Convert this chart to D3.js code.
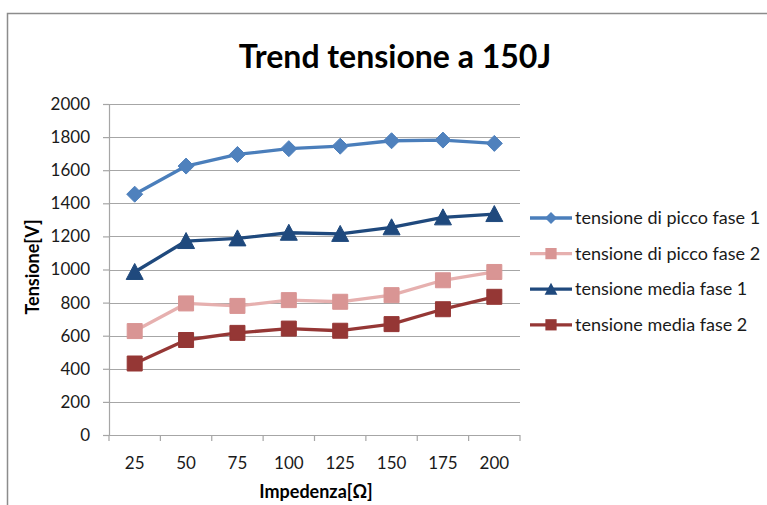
<!DOCTYPE html>
<html>
<head>
<meta charset="utf-8">
<script src="https://cdn.jsdelivr.net/npm/d3@7"></script>
<style>
  html, body { margin: 0; padding: 0; background: #fff; }
  svg { display: block; font-family: Lato, "Open Sans", sans-serif; }
</style>
</head>
<body>
<svg id="chart" width="767" height="505"></svg>
<script>
// Impedance categories (Ω)
const categories = ["25", "50", "75", "100", "125", "150", "175", "200"];

// Voltage series (V)
const piccoFase1 = [1455, 1625, 1695, 1730, 1745, 1778, 1782, 1762];
const piccoFase2 = [628, 795, 780, 815, 805, 845, 935, 985];
const mediaFase1 = [985, 1172, 1188, 1222, 1215, 1255, 1315, 1335];
const mediaFase2 = [432, 574, 617, 643, 630, 670, 760, 835];

const yTicks = [0, 200, 400, 600, 800, 1000, 1200, 1400, 1600, 1800, 2000];

const seriesNames = [
  "tensione di picco fase 1",
  "tensione di picco fase 2",
  "tensione media fase 1",
  "tensione media fase 2"
];

const series = [
  { name: seriesNames[0], values: piccoFase1, line: "#4A7EBB", fill: "#4F81BD", marker: "diamond" },
  { name: seriesNames[1], values: piccoFase2, line: "#E6B0AF", fill: "#D99594", marker: "square" },
  { name: seriesNames[2], values: mediaFase1, line: "#1F497D", fill: "#1F497D", marker: "triangle" },
  { name: seriesNames[3], values: mediaFase2, line: "#953735", fill: "#953735", marker: "square" }
];

const svg = d3.select("#chart");

// outer chart frame
svg.append("path")
  .attr("d", "M7.5,505 V13.5 H767")
  .attr("fill", "none")
  .attr("stroke", "#8c8c8c")
  .attr("stroke-width", 1.5);

const plot = { left: 109, right: 520, top: 104, bottom: 435 };

const x = d3.scaleBand()
  .domain(categories)
  .range([plot.left, plot.right]);

const y = d3.scaleLinear()
  .domain([0, 2000])
  .range([plot.bottom, plot.top]);

// horizontal gridlines
svg.append("g")
  .selectAll("line")
  .data(yTicks.filter(d => d > 0))
  .join("line")
  .attr("x1", plot.left)
  .attr("x2", plot.right)
  .attr("y1", d => Math.round(y(d)) + 0.5)
  .attr("y2", d => Math.round(y(d)) + 0.5)
  .attr("stroke", "#a6a6a6")
  .attr("stroke-width", 1.2);

// y axis
const yAxis = svg.append("g")
  .attr("transform", `translate(${plot.left},0)`)
  .call(d3.axisLeft(y).tickValues(yTicks).tickSize(6).tickPadding(13).tickFormat(d3.format("d")));
yAxis.select(".domain").attr("stroke", "#a6a6a6").attr("stroke-width", 1.2);
yAxis.selectAll(".tick line").attr("stroke", "#a6a6a6").attr("stroke-width", 1.2);
yAxis.selectAll(".tick text")
  .attr("fill", "#1a1a1a")
  .style("font-size", "17px")
  .style("font-family", "Lato, sans-serif");

// x axis with ticks on category boundaries
const xAxisG = svg.append("g")
  .attr("transform", `translate(0,${plot.bottom})`);
xAxisG.append("line")
  .attr("x1", plot.left - 6).attr("x2", plot.right)
  .attr("y1", 0.5).attr("y2", 0.5)
  .attr("stroke", "#a6a6a6").attr("stroke-width", 1.2);
const boundaries = categories.map(c => x(c)).concat([x(categories[categories.length - 1]) + x.bandwidth()]);
xAxisG.selectAll("line.tk")
  .data(boundaries)
  .join("line")
  .attr("class", "tk")
  .attr("x1", d => d).attr("x2", d => d)
  .attr("y1", 0).attr("y2", 6)
  .attr("stroke", "#a6a6a6").attr("stroke-width", 1.2);
xAxisG.selectAll("text")
  .data(categories)
  .join("text")
  .attr("x", d => x(d) + x.bandwidth() / 2)
  .attr("y", 34)
  .attr("text-anchor", "middle")
  .attr("fill", "#1a1a1a")
  .style("font-size", "17px")
  .text(d => d);

// title and axis titles
svg.append("text")
  .attr("x", 395)
  .attr("y", 68)
  .attr("text-anchor", "middle")
  .style("font-size", "32px")
  .style("font-weight", "bold")
  .attr("fill", "#000")
  .text("Trend tensione a 150J");

svg.append("text")
  .attr("x", 316)
  .attr("y", 498)
  .attr("text-anchor", "middle")
  .style("font-size", "18px")
  .style("font-weight", "bold")
  .attr("fill", "#000")
  .text("Impedenza[Ω]");

svg.append("text")
  .attr("transform", "translate(39,267) rotate(-90)")
  .attr("text-anchor", "middle")
  .style("font-size", "18px")
  .style("font-weight", "bold")
  .attr("fill", "#000")
  .text("Tensione[V]");

// marker outlines, centred on the data point
function markerD(type) {
  if (type === "diamond") return "M0,-8 L8,0 L0,8 L-8,0 Z";
  if (type === "square") return "M-7.5,-7.5 H7.5 V7.5 H-7.5 Z";
  return "M0,-8.5 L8.5,7.5 L-8.5,7.5 Z";
}

const line = d3.line()
  .x((d, i) => x(categories[i]) + x.bandwidth() / 2)
  .y(d => y(d));

const seriesG = svg.append("g");
series.forEach(s => {
  const g = seriesG.append("g");
  g.append("path")
    .attr("d", line(s.values))
    .attr("fill", "none")
    .attr("stroke", s.line)
    .attr("stroke-width", 3.3)
    .attr("stroke-linejoin", "round");
  g.selectAll("path.mk")
    .data(s.values)
    .join("path")
    .attr("class", "mk")
    .attr("transform", (d, i) => `translate(${x(categories[i]) + x.bandwidth() / 2},${y(d)})`)
    .attr("d", markerD(s.marker))
    .attr("fill", s.fill)
    .attr("stroke", s.fill)
    .attr("stroke-width", 1);
});

// legend
const legend = svg.append("g");
series.forEach((s, i) => {
  const ly = 218 + i * 35.6;
  legend.append("line")
    .attr("x1", 530).attr("x2", 572)
    .attr("y1", ly).attr("y2", ly)
    .attr("stroke", s.line)
    .attr("stroke-width", 3.3);
  legend.append("path")
    .attr("transform", `translate(551,${ly}) scale(0.75)`)
    .attr("d", markerD(s.marker))
    .attr("fill", s.fill);
  legend.append("text")
    .attr("x", 575)
    .attr("y", ly + 6)
    .style("font-size", "18px")
    .attr("fill", "#1a1a1a")
    .text(s.name);
});
</script>
</body>
</html>
